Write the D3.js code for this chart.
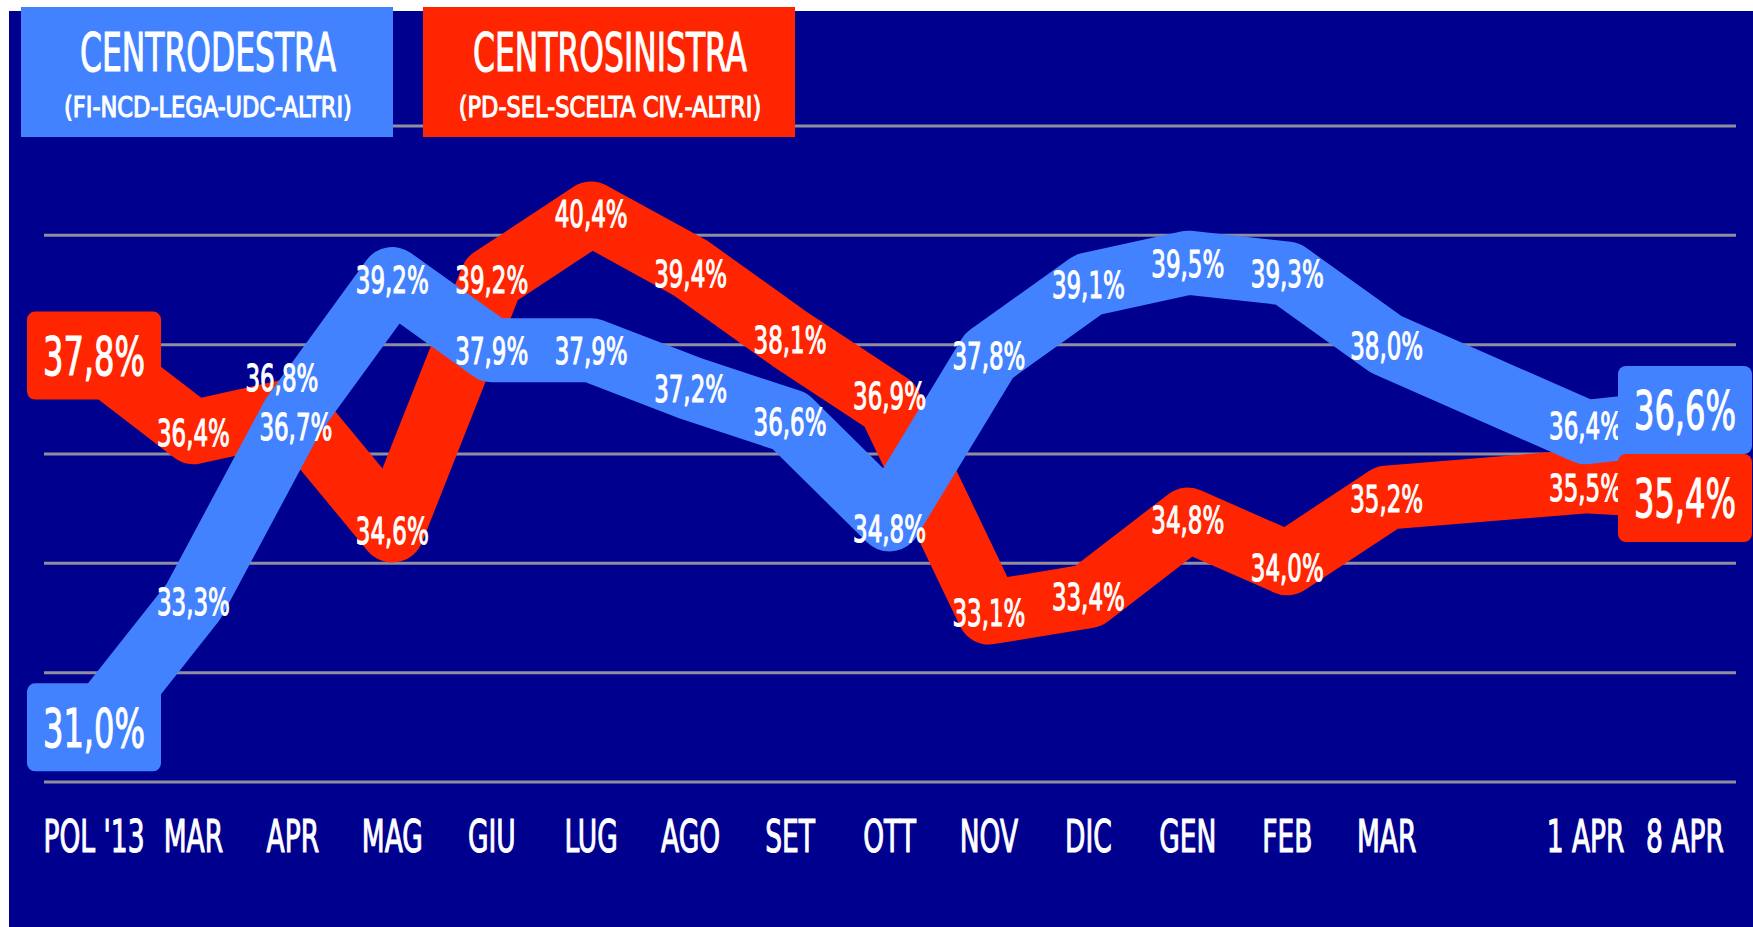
<!DOCTYPE html>
<html>
<head>
<meta charset="utf-8">
<script src="https://cdn.jsdelivr.net/npm/d3@7"></script>
<style>
  body { margin: 0; background: #fff; }
  text { fill: #fff; stroke: #fff; stroke-width: 1.1px; font-weight: normal; }
</style>
</head>
<body>
<svg id="chart" width="1753" height="927"></svg>
<script>
// data
var categories = ["POL '13", "MAR", "APR", "MAG", "GIU", "LUG", "AGO", "SET", "OTT", "NOV", "DIC", "GEN", "FEB", "MAR", "1 APR", "8 APR"];
var slots = [0, 1, 2, 3, 4, 5, 6, 7, 8, 9, 10, 11, 12, 13, 15, 16];
var centrodestra = [31.0, 33.3, 36.7, 39.2, 37.9, 37.9, 37.2, 36.6, 34.8, 37.8, 39.1, 39.5, 39.3, 38.0, 36.4, 36.6];
var centrosinistra = [37.8, 36.4, 36.8, 34.6, 39.2, 40.4, 39.4, 38.1, 36.9, 33.1, 33.4, 34.8, 34.0, 35.2, 35.5, 35.4];
var gridValues = [30, 32, 34, 36, 38, 40, 42];

var FONT = "'Liberation Sans Narrow', 'DejaVu Sans Condensed', 'Liberation Sans', sans-serif";
var NAVY = "#00008f", BLUE = "#4282ff", RED = "#ff2500";

var svg = d3.select("#chart").style("font-family", FONT);

var x = d3.scaleLinear().domain([0, 16]).range([94, 1685]);
var y = d3.scaleLinear().domain([30, 42]).range([782, 126]);

function fmt(v) { return v.toFixed(1).replace(".", ",") + "%"; }

// horizontal squeeze so the narrow font looks like the condensed original
function squeeze(str, size, target) {
  var t = svg.append("text").attr("font-size", size).text(str);
  var w = t.node().getComputedTextLength();
  t.remove();
  return target / w;
}

function label(g, str, cx, cy, size, k) {
  g.append("text")
    .attr("transform", "translate(" + cx + "," + (cy + size * 0.365) + ") scale(" + k + ",1)")
    .attr("text-anchor", "middle")
    .attr("font-size", size)
    .text(str);
}

svg.append("rect").attr("x", 9).attr("y", 11).attr("width", 1744).attr("height", 916).attr("fill", NAVY);

svg.append("g").selectAll("line")
  .data(gridValues).enter().append("line")
  .attr("x1", 44).attr("x2", 1736)
  .attr("y1", function(d) { return y(d); })
  .attr("y2", function(d) { return y(d); })
  .attr("stroke", "#8e8e9e").attr("stroke-width", 3);

var line = d3.line()
  .x(function(d, i) { return x(slots[i]); })
  .y(function(d) { return y(d); });

var series = [
  { name: "sx", values: centrosinistra, color: RED },
  { name: "dx", values: centrodestra, color: BLUE }
];

svg.append("g").selectAll("path")
  .data(series).enter().append("path")
  .attr("d", function(s) { return line(s.values); })
  .attr("fill", "none")
  .attr("stroke", function(s) { return s.color; })
  .attr("stroke-width", 64)
  .attr("stroke-linejoin", "round");

// small labels, centered on each point
var kVal = squeeze("33,3%", 38, 73);
var labels = svg.append("g");
var shift = { "sx-2": [-11, -33], "dx-2": [3, 10], "sx-8": [0, -10], "dx-8": [0, 9], "dx-14": [0, -7], "sx-14": [0, 6], "sx-6": [0, 5], "sx-12": [0, 4] };
series.forEach(function(s) {
  s.values.forEach(function(v, i) {
    if (i === 0 || i === s.values.length - 1) return;
    var sh = shift[s.name + "-" + i] || [0, 0];
    label(labels, fmt(v), x(slots[i]) + sh[0], y(v) + sh[1], 38, kVal);
  });
});

// boxes at both ends, pushed apart when they would overlap
var boxW = 134, boxH = 88;
var kBox = squeeze("37,8%", 53, 102);
var last = slots.length - 1;
var ends = [];
[0, last].forEach(function(i) {
  var a = { s: series[0], cy: y(series[0].values[i]), i: i };
  var b = { s: series[1], cy: y(series[1].values[i]), i: i };
  var gap = Math.abs(a.cy - b.cy);
  if (gap < boxH) {
    var push = (boxH - gap) / 2;
    if (a.cy > b.cy) { a.cy += push; b.cy -= push; } else { a.cy -= push; b.cy += push; }
  }
  ends.push(a, b);
});
var boxes = svg.append("g");
ends.forEach(function(e) {
  var cx = x(slots[e.i]);
  boxes.append("rect")
    .attr("x", cx - boxW / 2).attr("y", e.cy - boxH / 2)
    .attr("width", boxW).attr("height", boxH)
    .attr("rx", 8)
    .attr("fill", e.s.color);
  label(boxes, fmt(e.s.values[e.i]), cx, e.cy, 53, kBox);
});

// x axis labels
var kAxis = squeeze("POL '13", 44, 101);
svg.append("g").selectAll("text")
  .data(categories).enter().append("text")
  .attr("transform", function(d, i) { return "translate(" + x(slots[i]) + ",852) scale(" + kAxis + ",1)"; })
  .attr("text-anchor", "middle")
  .attr("font-size", 44)
  .text(function(d) { return d; });

// legend
var legend = [
  { title: "CENTRODESTRA", sub: "(FI-NCD-LEGA-UDC-ALTRI)", color: BLUE, x: 21 },
  { title: "CENTROSINISTRA", sub: "(PD-SEL-SCELTA CIV.-ALTRI)", color: RED, x: 423 }
];
var kTitle = squeeze("CENTRODESTRA", 54, 256);
var kSub = squeeze("(FI-NCD-LEGA-UDC-ALTRI)", 29, 288);
legend.forEach(function(l) {
  var g = svg.append("g");
  g.append("rect").attr("x", l.x).attr("y", 7).attr("width", 372).attr("height", 130).attr("fill", l.color);
  g.append("text")
    .attr("transform", "translate(" + (l.x + 187) + ",71) scale(" + kTitle + ",1)")
    .attr("text-anchor", "middle").attr("font-size", 54).text(l.title);
  g.append("text")
    .attr("transform", "translate(" + (l.x + 187) + ",117) scale(" + kSub + ",1)")
    .attr("text-anchor", "middle").attr("font-size", 29).text(l.sub);
});
</script>
</body>
</html>
